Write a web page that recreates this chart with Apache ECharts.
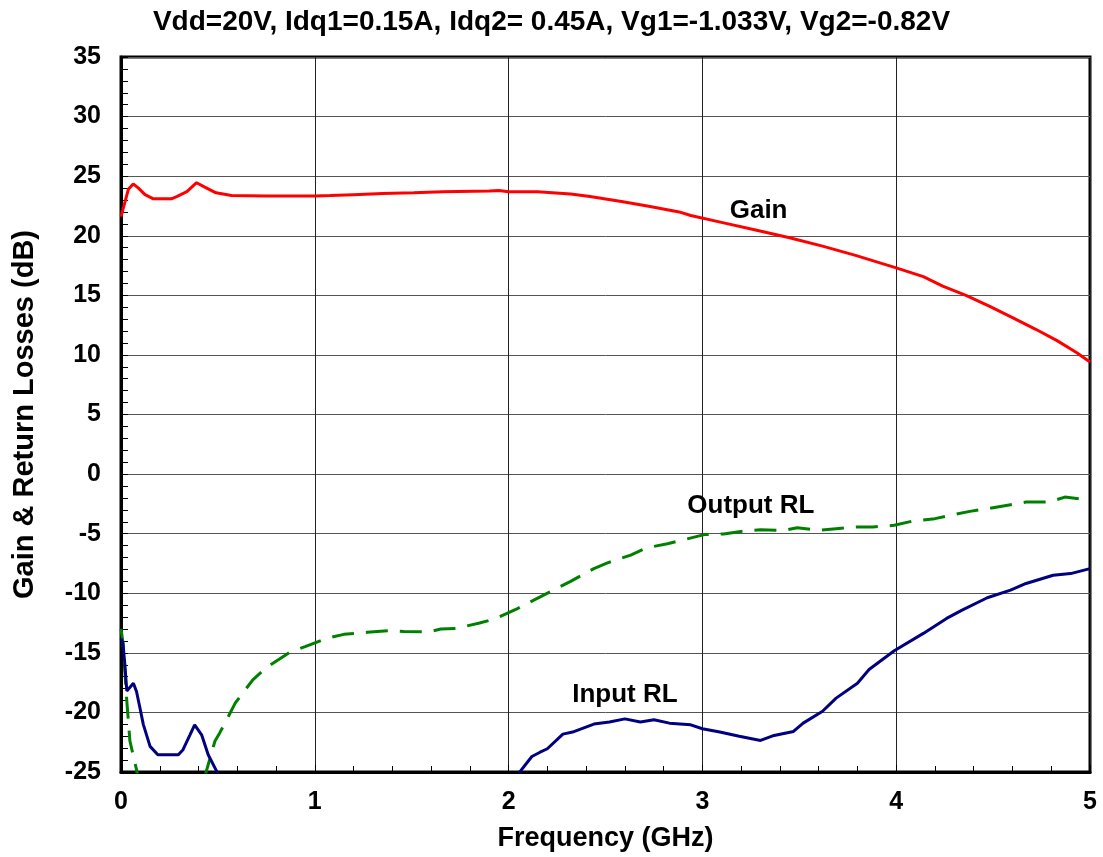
<!DOCTYPE html>
<html>
<head>
<meta charset="utf-8">
<script src="https://cdn.jsdelivr.net/npm/echarts@6/dist/echarts.min.js"></script>
<style>
  html, body { margin: 0; padding: 0; background: #fff; }
  #chart { width: 1103px; height: 857px; }
</style>
</head>
<body>
<div id="chart"></div>
<script>
// Bias conditions shown in the heading
const titleText = 'Vdd=20V, Idq1=0.15A, Idq2= 0.45A, Vg1=-1.033V, Vg2=-0.82V';

// Axis ranges / ticks
const xTicks = [0, 1, 2, 3, 4, 5];
const yTicks = [-25, -20, -15, -10, -5, 0, 5, 10, 15, 20, 25, 30, 35];

// Gain (dB) vs frequency (GHz)
const gainFreq = [0, 0.02, 0.038, 0.063, 0.09, 0.124, 0.167, 0.26, 0.29, 0.34, 0.39, 0.43, 0.46, 0.49, 0.57, 0.75, 1.0, 1.08, 1.2, 1.35, 1.51, 1.66, 1.9, 1.95, 2.0, 2.15, 2.32, 2.42, 2.59, 2.73, 2.88, 2.94, 3.11, 3.28, 3.45, 3.62, 3.79, 4.0, 4.14, 4.24, 4.36, 4.48, 4.6, 4.72, 4.83, 4.93, 5.0];
const gainDb   = [21.6, 22.8, 23.9, 24.35, 24.0, 23.45, 23.1, 23.1, 23.3, 23.7, 24.45, 24.1, 23.85, 23.6, 23.37, 23.33, 23.33, 23.37, 23.45, 23.55, 23.6, 23.7, 23.75, 23.8, 23.7, 23.7, 23.5, 23.3, 22.85, 22.45, 22.0, 21.7, 21.08, 20.46, 19.83, 19.13, 18.35, 17.3, 16.57, 15.78, 15.0, 14.1, 13.13, 12.15, 11.2, 10.2, 9.4];

// Input return loss (dB)
const inFreq = [0, 0.01, 0.02, 0.03, 0.064, 0.08, 0.1, 0.115, 0.15, 0.19, 0.24, 0.296, 0.32, 0.356, 0.38, 0.416, 0.45, 0.494, 0.55, 0.8, 1.3, 1.8, 2.0, 2.06, 2.12, 2.16, 2.2, 2.28, 2.33, 2.44, 2.52, 2.6, 2.68, 2.75, 2.83, 2.94, 3.0, 3.09, 3.19, 3.3, 3.37, 3.47, 3.52, 3.62, 3.69, 3.8, 3.86, 3.99, 4.14, 4.26, 4.34, 4.47, 4.59, 4.67, 4.81, 4.9, 5.0];
const inDb   = [-13.8, -14.2, -16.0, -18.2, -17.55, -18.25, -19.8, -21.0, -22.85, -23.55, -23.55, -23.55, -23.13, -21.88, -21.04, -21.88, -23.55, -24.95, -27, -31, -33, -30, -27, -24.95, -23.7, -23.36, -23.05, -21.82, -21.65, -20.98, -20.8, -20.54, -20.8, -20.62, -20.9, -21.04, -21.37, -21.65, -22.0, -22.35, -21.93, -21.6, -20.9, -19.9, -18.8, -17.55, -16.4, -14.82, -13.37, -12.11, -11.42, -10.38, -9.74, -9.18, -8.49, -8.35, -7.93];

// Output return loss (dB)
const outFreq = [0, 0.01, 0.03, 0.046, 0.08, 0.12, 0.25, 0.4, 0.44, 0.485, 0.51, 0.554, 0.59, 0.68, 0.75, 0.87, 0.95, 1.06, 1.15, 1.27, 1.39, 1.46, 1.59, 1.65, 1.73, 1.85, 1.93, 2.04, 2.13, 2.24, 2.32, 2.44, 2.51, 2.63, 2.71, 2.82, 2.91, 3.01, 3.11, 3.21, 3.3, 3.42, 3.49, 3.6, 3.69, 3.8, 3.88, 3.99, 4.08, 4.2, 4.28, 4.38, 4.47, 4.59, 4.67, 4.79, 4.87, 4.98, 5.0];
const outDb   = [-13.0, -14.1, -19.06, -22.4, -24.8, -28, -33, -28, -24.95, -22.4, -21.7, -20.34, -19.2, -17.27, -16.24, -14.96, -14.48, -13.79, -13.45, -13.28, -13.14, -13.2, -13.23, -13.0, -12.95, -12.5, -12.15, -11.34, -10.58, -9.66, -9.0, -7.93, -7.45, -6.8, -6.2, -5.84, -5.48, -5.08, -5.03, -4.78, -4.67, -4.72, -4.5, -4.72, -4.58, -4.44, -4.44, -4.3, -3.96, -3.74, -3.46, -3.13, -2.9, -2.57, -2.35, -2.35, -1.93, -2.15, -2.1];

// Curve annotations: [label, frequency, dB]
const curveLabels = [
  ['Gain', 3.29, 22.1],
  ['Output RL', 3.25, -2.66],
  ['Input RL', 2.6, -18.56]
];

const FONT = '"Liberation Sans", Arial, sans-serif';
const zip = (xs, ys) => xs.map((x, i) => [x, ys[i]]);

const labelMark = (name) => {
  const l = curveLabels.find(c => c[0] === name);
  return {
    symbol: 'circle',
    symbolSize: 0,
    silent: true,
    label: {
      show: true, position: 'inside', formatter: l[0],
      color: '#000', fontFamily: FONT, fontWeight: 'bold', fontSize: 26
    },
    data: [{ coord: [l[1], l[2]] }]
  };
};

const chart = echarts.init(document.getElementById('chart'), null, { renderer: 'canvas' });

chart.setOption({
  animation: false,
  backgroundColor: '#fff',
  title: {
    text: titleText,
    left: 'center',
    top: 3,
    textStyle: { fontFamily: FONT, fontWeight: 'bold', fontSize: 28, color: '#000' }
  },
  grid: {
    left: 121, right: 13, top: 57, bottom: 83,
    show: true, borderColor: '#000', borderWidth: 3, backgroundColor: 'transparent'
  },
  xAxis: {
    type: 'value',
    min: xTicks[0], max: xTicks[xTicks.length - 1], interval: 1,
    name: 'Frequency (GHz)',
    nameLocation: 'middle',
    nameGap: 53,
    nameTextStyle: { fontFamily: FONT, fontWeight: 'bold', fontSize: 27, color: '#000' },
    axisLine: { show: true, onZero: false, lineStyle: { color: '#000', width: 3 } },
    axisTick: { show: true, inside: true, length: 7, lineStyle: { color: '#000', width: 1 } },
    minorTick: { show: true, splitNumber: 5, length: 6, lineStyle: { color: '#000', width: 1 } },
    axisLabel: { margin: 18, fontFamily: FONT, fontWeight: 'bold', fontSize: 25, color: '#000' },
    splitLine: { show: true, lineStyle: { color: '#222', width: 1 } }
  },
  yAxis: {
    type: 'value',
    min: yTicks[0], max: yTicks[yTicks.length - 1], interval: 5,
    name: 'Gain & Return Losses (dB)',
    nameLocation: 'middle',
    nameRotate: 90,
    nameGap: 82,
    nameTextStyle: { fontFamily: FONT, fontWeight: 'bold', fontSize: 29, color: '#000' },
    axisLine: { show: true, onZero: false, lineStyle: { color: '#000', width: 3 } },
    axisTick: { show: true, inside: true, length: 7, lineStyle: { color: '#000', width: 1 } },
    minorTick: { show: true, splitNumber: 5, length: 7, lineStyle: { color: '#000', width: 1 } },
    axisLabel: { margin: 20, fontFamily: FONT, fontWeight: 'bold', fontSize: 25, color: '#000' },
    splitLine: { show: true, lineStyle: { color: '#555', width: 1 } }
  },
  series: [
    {
      name: 'Gain', type: 'line', showSymbol: false, clip: true,
      lineStyle: { color: '#ff0000', width: 3 },
      data: zip(gainFreq, gainDb),
      markPoint: labelMark('Gain')
    },
    {
      name: 'Output RL', type: 'line', showSymbol: false, clip: true,
      lineStyle: { color: '#008000', width: 3, type: [22, 12] },
      data: zip(outFreq, outDb),
      markPoint: labelMark('Output RL')
    },
    {
      name: 'Input RL', type: 'line', showSymbol: false, clip: true,
      lineStyle: { color: '#000080', width: 3 },
      data: zip(inFreq, inDb),
      markPoint: labelMark('Input RL')
    }
  ]
});
</script>
</body>
</html>
